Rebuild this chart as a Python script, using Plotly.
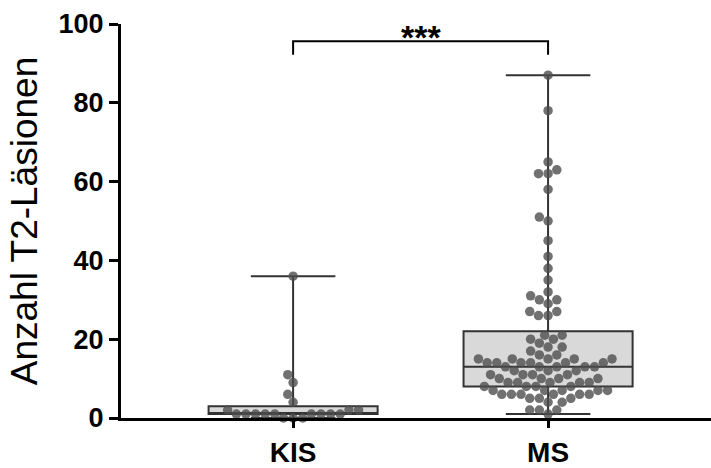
import math
import plotly.graph_objects as go

# ---------------- data ----------------
categories = ["KIS", "MS"]
cat_pos = [0, 1]

kis_values = [36, 11, 9, 6, 4, 2, 2, 2, 1, 1, 1, 1, 1, 1, 1, 1, 1, 0, 0, 0]
ms_values = [87, 78, 65, 63, 62, 62, 58, 51, 50, 45, 41, 38, 35, 32, 31, 30, 30, 29,
             27, 27, 26, 26, 21, 21, 20, 20, 19, 18, 18, 17,
             16, 16, 15, 15, 15, 15, 15, 14, 14, 14, 14, 14, 14, 13, 13, 13, 13, 13,
             12, 12, 12, 11, 11, 11, 11, 10, 10, 10, 10, 9, 9, 9, 9, 9,
             8, 8, 8, 8, 7, 7, 7, 7, 7, 6, 6, 6, 6, 6, 6, 5, 5, 5, 4, 4, 2, 2, 2, 1]

# box statistics (min / Q1 / median / Q3 / max)
box_min = [0, 1]
box_q1 = [1, 8]
box_median = [1, 13]
box_q3 = [3, 22]
box_max = [36, 87]

y_tick_vals = [0, 20, 40, 60, 80, 100]
sig_label = "***"

# ---------------- layout constants ----------------
W, H = 711, 468
M_L, M_R, M_T, M_B = 121, 0, 24, 45
X_RANGE = [-0.675, 1.639]
Y_RANGE = [0, 100]
plot_w = W - M_L - M_R
plot_h = H - M_T - M_B
px_per_x = plot_w / (X_RANGE[1] - X_RANGE[0])
px_per_y = plot_h / (Y_RANGE[1] - Y_RANGE[0])
DOT_D = 9.6  # collision diameter in px


def swarm_offsets(values):
    """Classic beeswarm: place points in ascending order as close to the centre as possible."""
    vals = sorted(values)
    placed = []
    for v in vals:
        y = v * px_per_y
        cands = [0.0]
        for (px, py) in placed:
            dy = abs(py - y)
            if dy < DOT_D:
                dx = math.sqrt(DOT_D ** 2 - dy ** 2)
                cands += [px + dx, px - dx]
        ok = [c for c in cands
              if all((c - px) ** 2 + (y - py) ** 2 >= DOT_D ** 2 - 1e-6 for (px, py) in placed)]
        best = min(ok, key=lambda c: (round(abs(c), 6), c))
        placed.append((best, y))
    xs = [p[0] / px_per_x for p in placed]
    return vals, xs


fig = go.Figure()

BOX_W = 0.663
LINE_C = "#333333"
for i, name in enumerate(categories):
    fig.add_trace(go.Box(
        x=[cat_pos[i]], q1=[box_q1[i]], median=[box_median[i]], q3=[box_q3[i]],
        lowerfence=[box_min[i]], upperfence=[box_max[i]],
        width=BOX_W, whiskerwidth=0.5,
        fillcolor="#d9d9d9", line=dict(color=LINE_C, width=2),
        boxpoints=False, showlegend=False, hoverinfo="skip"))

for i, vals in enumerate([kis_values, ms_values]):
    ys, offs = swarm_offsets(vals)
    fig.add_trace(go.Scatter(
        x=[cat_pos[i] + o for o in offs], y=ys, mode="markers",
        marker=dict(size=9.5, color="rgba(78,78,78,0.8)", line=dict(width=0)),
        cliponaxis=False, showlegend=False, hoverinfo="skip"))

# significance bracket
br_top, br_leg = 95.6, 92.2
fig.add_shape(type="path",
              path=f"M {cat_pos[0]},{br_leg} L {cat_pos[0]},{br_top} L {cat_pos[1]},{br_top} L {cat_pos[1]},{br_leg}",
              xref="x", yref="y", line=dict(color="black", width=2))
fig.add_annotation(x=(cat_pos[0] + cat_pos[1]) / 2, y=br_top, text=sig_label, showarrow=False,
                   yanchor="bottom", yshift=-17,
                   font=dict(family="Liberation Sans", size=34, color="black", weight="bold"))

fig.update_layout(
    width=W, height=H,
    margin=dict(l=M_L, r=M_R, t=M_T, b=M_B, pad=0),
    paper_bgcolor="white", plot_bgcolor="white",
    font=dict(family="Liberation Sans", color="black"),
    xaxis=dict(range=X_RANGE, tickvals=cat_pos, ticktext=categories,
               showgrid=False, zeroline=False, showline=True, linecolor="black", linewidth=3,
               ticks="outside", ticklen=7, tickwidth=3, tickcolor="black",
               tickfont=dict(family="Liberation Sans", size=28, color="black", weight="bold")),
    yaxis=dict(range=Y_RANGE, tickvals=y_tick_vals,
               showgrid=False, zeroline=False, showline=True, linecolor="black", linewidth=3,
               ticks="outside", ticklen=9, tickwidth=2.5, tickcolor="black",
               tickfont=dict(family="Liberation Sans", size=27, color="black", weight="bold"),
               title=dict(text="Anzahl T2-Läsionen", standoff=10,
                          font=dict(family="Liberation Sans", size=37, color="black"))),
)

fig.write_html("out.html")
